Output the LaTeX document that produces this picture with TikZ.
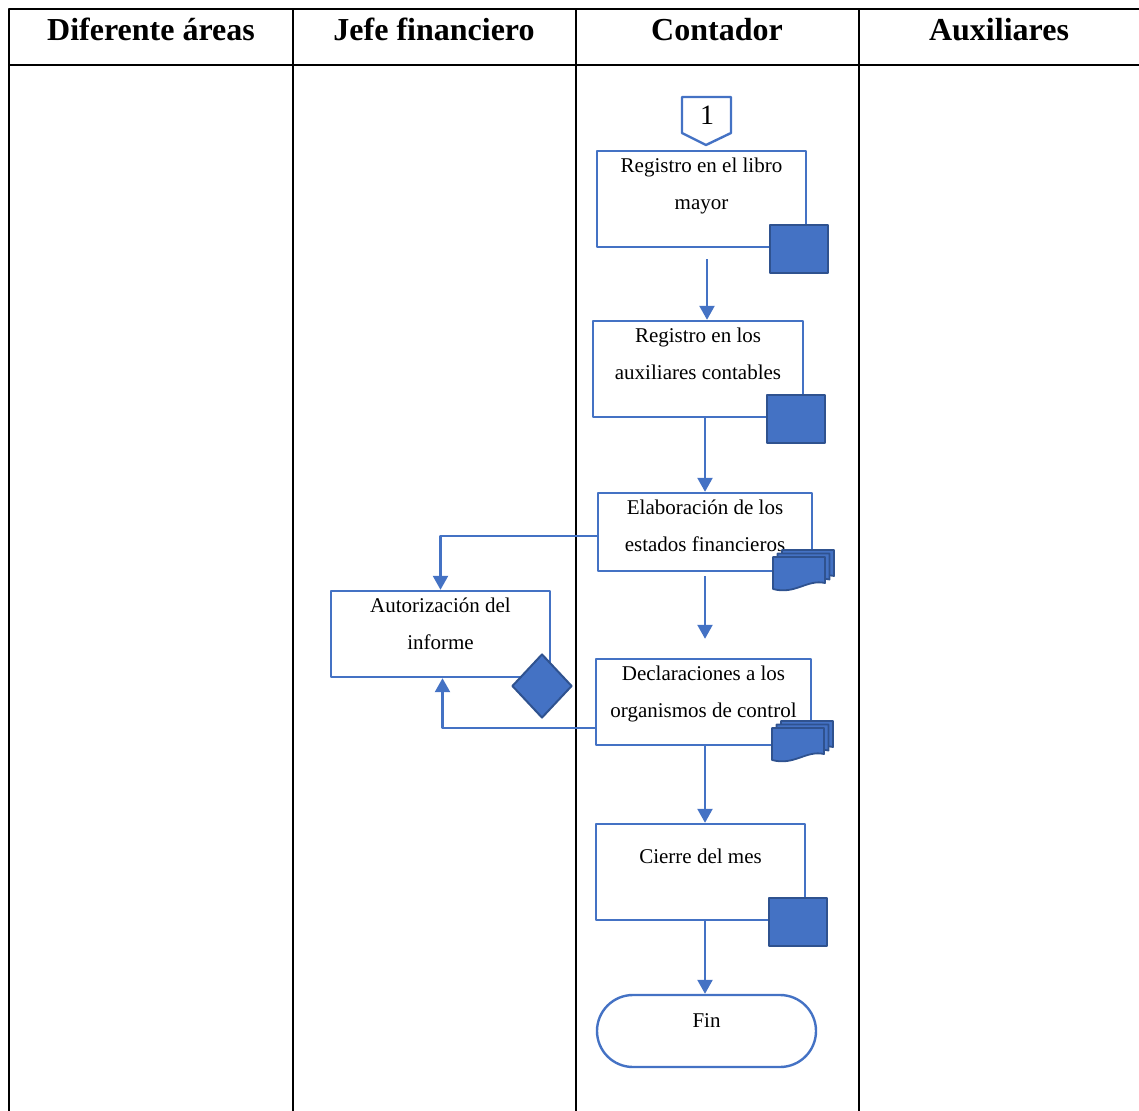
\documentclass[tikz,border=0pt]{standalone}
\usepackage{fontspec}
\setmainfont{Liberation Serif}
\usetikzlibrary{arrows.meta,shapes.geometric,calc}
\definecolor{azul}{HTML}{4472C4}
\definecolor{azulosc}{HTML}{2F528F}
\begin{document}
\begin{tikzpicture}[x=0.5pt, y=-0.5pt, font=\fontsize{10.5}{18.5}\selectfont, line join=round, >={Triangle[length=7pt,width=7.5pt]},
	caja/.style={draw=azul, line width=1.2pt, inner sep=0pt},
	txt/.style={align=center, inner sep=0pt, anchor=north, yshift=-4pt},
	cuadro/.style={draw=azulosc, fill=azul, line width=1pt, minimum width=29pt, minimum height=24pt, inner sep=0pt},
	hoja/.style={draw=azulosc, fill=azul, line width=0.9pt},
	flecha/.style={azul, line width=1.2pt, ->},
	titulo/.style={font=\fontsize{16}{19}\selectfont\bfseries, anchor=base}]
\useasboundingbox (0,0) rectangle (1139,1111);
% tabla
\draw[line width=1pt] (9,1111) -- (9,9) -- (1139,9);
\draw[line width=1pt] (9,65) -- (1139,65);
\foreach \x in {293,576,859} \draw[line width=1pt] (\x,9) -- (\x,1111);
\node[titulo] (areas) at (151,41) {Diferente áreas};
\node[titulo] (jefe) at (434,41) {Jefe financiero};
\node[titulo] (contador) at (717,41) {Contador};
\node[titulo] (auxiliares) at (999,41) {Auxiliares};
% conector
\draw[azul, line width=1.2pt] (682,97) -- (731,97) -- (731,133) -- (706,145) -- (682,133) -- cycle;
\node[font=\fontsize{14}{16}\selectfont] (uno) at (707,115) {1};
% contador
\node[caja, minimum width=104.5pt, minimum height=48pt] (libro) at (701.5,199) {};
\node[txt] (libroT) at (libro.north) {Registro en el libro\\mayor};
\node[cuadro] (libroC) at (799,249) {};
\node[caja, minimum width=105pt, minimum height=48pt] (auxiliar) at (698,369) {};
\node[txt] (auxiliarT) at (auxiliar.north) {Registro en los\\auxiliares contables};
\node[cuadro] (auxiliarC) at (796,419) {};
\node[caja, minimum width=107pt, minimum height=39pt] (estados) at (705,532) {};
\node[txt] (estadosT) at (estados.north) {Elaboración de los\\estados financieros};
\node[caja, minimum width=107.5pt, minimum height=43pt] (decl) at (703.5,702) {};
\node[txt] (declT) at (decl.north) {Declaraciones a los\\organismos de control};
\foreach \x/\y in {773/557, 772/728}
	\foreach \k in {2,1,0}
		\draw[hoja, shift={({\x+4.5*\k},{\y-3.5*\k})}] (0,0) -- (52,0) -- (52,26) .. controls (34,22) and (22,38) .. (0,32) -- cycle;
\node[caja, minimum width=104.5pt, minimum height=48pt] (cierre) at (700.5,872) {};
\node[txt, yshift=-9pt] (cierreT) at (cierre.north) {Cierre del mes};
\node[cuadro] (cierreC) at (798,922) {};
\node[caja, rounded corners=18pt, minimum width=109.5pt, minimum height=36pt] (fin) at (706.5,1031) {};
\node[txt, yshift=-5.5pt] (finT) at (fin.north) {Fin};
% jefe financiero
\node[caja, minimum width=109.5pt, minimum height=43pt] (autor) at (440.5,634) {};
\node[txt] (autorT) at (autor.north) {Autorización del\\informe};
\node[diamond, draw=azulosc, fill=azul, line width=1pt, minimum width=30pt, minimum height=32pt, inner sep=0pt] (autorR) at (542,686) {};
% flechas
\draw[flecha] (uno |- libro.south) ++(0,11) -- (uno |- auxiliar.north);
\draw[flecha] (estados |- auxiliar.south) -- (estados.north);
\draw[flecha] (estados.south) ++(0,4) -- ($(decl.north -| estados)+(0,-19)$);
\draw[flecha] (estados |- decl.south) -- (estados |- cierre.north);
\draw[flecha] (estados |- cierre.south) -- (estados |- fin.north);
\draw[flecha] ([yshift=-2pt]estados.west) -| (autor.north);
\draw[flecha] ([yshift=-13pt]decl.west) -| ([xshift=1pt]autor.south);
\end{tikzpicture}
\end{document}
